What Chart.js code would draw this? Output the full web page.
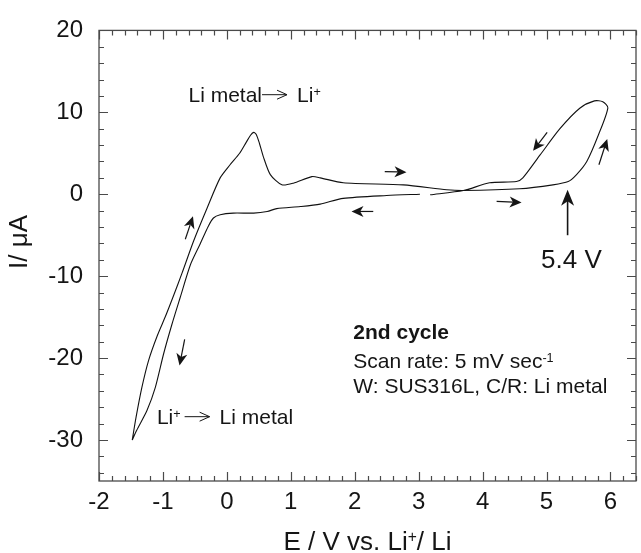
<!DOCTYPE html>
<html>
<head>
<meta charset="utf-8">
<script src="https://cdn.jsdelivr.net/npm/chart.js@4.4.1/dist/chart.umd.min.js"></script>
<style>
  html, body { margin: 0; padding: 0; background: #fff; }
</style>
</head>
<body>
<canvas id="cv" width="641" height="553"></canvas>
<script>
// 2nd cycle CV trace, one closed loop starting from the most negative potential
// (null marks the small break in the return sweep near 3.1 V)
const potential = [
  -1.48, -1.42, -1.33, -1.225, -1.09, -0.96, -0.83, -0.70, -0.52, -0.31,
  -0.105, 0.05, 0.20, 0.30, 0.37, 0.42, 0.46, 0.51, 0.57, 0.68,
  0.86, 1.04, 1.33, 1.46, 1.82, 2.76, 3.44, 3.70, 4.58, 5.10,
  5.34, 5.47, 5.63, 5.81, 5.96, 5.88, 5.75, 5.52, 5.21, 4.90,
  4.63, 4.53, 4.11, 3.70, 3.18, 3.10, 3.02, 2.50, 1.82, 1.46,
  1.15, 0.78, 0.63, 0.42, 0.10, -0.105, -0.21, -0.29, -0.42, -0.57,
  -0.73, -0.86, -0.99, -1.12, -1.25, -1.41, -1.48
];
const current = [
  -30, -27.2, -23.6, -20.3, -17.3, -14.9, -12.3, -9.6, -5.7, -1.7,
  2.0, 3.6, 5.0, 6.3, 7.2, 7.55, 7.3, 6.2, 4.6, 2.4,
  1.15, 1.35, 2.15, 2.0, 1.4, 1.15, 0.55, 0.45, 0.67, 1.15,
  1.55, 2.4, 4.0, 7.2, 10.55, 11.3, 11.4, 10.5, 8.0, 4.8,
  2.0, 1.55, 1.4, 0.45, -0.06, null, 0.0, -0.15, -0.5, -1.2,
  -1.5, -1.75, -2.1, -2.3, -2.3, -2.5, -2.9, -3.9, -6.1, -8.6,
  -12.6, -15.9, -19.5, -23.6, -26.4, -28.8, -30
];

const xTickValues = [-2, -1, 0, 1, 2, 3, 4, 5, 6];
const yTickValues = [-30, -20, -10, 0, 10, 20];

// scan direction arrows: [E tail, I tail, E head, I head]
const scanArrows = [
  [-0.65, -5.5, -0.53, -2.7],
  [-0.66, -17.7, -0.74, -20.9],
  [2.47, 2.77, 2.81, 2.70],
  [2.29, -2.1, 1.95, -2.1],
  [4.22, -0.87, 4.61, -1.0],
  [5.01, 7.55, 4.79, 5.3],
  [5.82, 3.6, 5.95, 6.75]
];
// onset marker
const onsetArrow = [5.33, -5.0, 5.33, 0.55];

const FONT = "'Liberation Sans', Arial, Helvetica, sans-serif";
const INK = '#151515';

function drawRich(ctx, x, y, parts, size, align) {
  const widths = parts.map(p => {
    if (p.arrow) return p.arrow;
    if (p.gap) return p.gap;
    ctx.font = (p.bold ? 'bold ' : '') + (p.sup ? size * 0.6 : size) + 'px ' + FONT;
    return ctx.measureText(p.t).width;
  });
  const total = widths.reduce((a, b) => a + b, 0);
  let cx = align === 'center' ? x - total / 2 : x;
  ctx.textAlign = 'left';
  ctx.textBaseline = 'alphabetic';
  parts.forEach((p, i) => {
    if (p.arrow) {
      const ay = y - size * 0.34;
      ctx.lineWidth = 1;
      ctx.beginPath();
      ctx.moveTo(cx, ay);
      ctx.lineTo(cx + p.arrow, ay);
      ctx.moveTo(cx + p.arrow - 10, ay - 4.5);
      ctx.lineTo(cx + p.arrow, ay);
      ctx.lineTo(cx + p.arrow - 10, ay + 4.5);
      ctx.stroke();
    } else if (!p.gap) {
      ctx.font = (p.bold ? 'bold ' : '') + (p.sup ? size * 0.6 : size) + 'px ' + FONT;
      ctx.fillText(p.t, cx, p.sup ? y - size * 0.3 : y);
    }
    cx += widths[i];
  });
}

function drawScanArrow(ctx, x1, y1, x2, y2, headLen, headW, lw) {
  const ang = Math.atan2(y2 - y1, x2 - x1);
  ctx.lineWidth = lw;
  ctx.beginPath();
  ctx.moveTo(x1, y1);
  ctx.lineTo(x2 - Math.cos(ang) * headLen * 0.7, y2 - Math.sin(ang) * headLen * 0.7);
  ctx.stroke();
  ctx.save();
  ctx.translate(x2, y2);
  ctx.rotate(ang);
  ctx.beginPath();
  ctx.moveTo(0, 0);
  ctx.lineTo(-headLen, -headW);
  ctx.lineTo(-headLen * 0.72, 0);
  ctx.lineTo(-headLen, headW);
  ctx.closePath();
  ctx.fill();
  ctx.restore();
}

const framePlugin = {
  id: 'frame',
  afterDraw(chart) {
    const { ctx, chartArea: a, scales: { x, y } } = chart;
    ctx.save();
    ctx.strokeStyle = '#4a4a4a';
    ctx.lineWidth = 1.3;
    ctx.strokeRect(a.left, a.top, a.right - a.left, a.bottom - a.top);

    // inward ticks on all four sides
    ctx.lineWidth = 1.2;
    ctx.beginPath();
    for (let k = -10; k <= 32; k++) {
      const v = k / 5;
      const px = Math.round(x.getPixelForValue(v)) + 0.5;
      const len = k % 5 === 0 ? 9 : 5;
      ctx.moveTo(px, a.bottom); ctx.lineTo(px, a.bottom - len);
      ctx.moveTo(px, a.top); ctx.lineTo(px, a.top + len);
    }
    for (let v = -34; v <= 20; v += 2) {
      const py = Math.round(y.getPixelForValue(v)) + 0.5;
      const len = v % 10 === 0 ? 9 : 5;
      ctx.moveTo(a.left, py); ctx.lineTo(a.left + len, py);
      ctx.moveTo(a.right, py); ctx.lineTo(a.right - len, py);
    }
    ctx.stroke();

    ctx.fillStyle = INK;
    ctx.strokeStyle = INK;

    scanArrows.forEach(([e1, i1, e2, i2]) => {
      drawScanArrow(ctx, x.getPixelForValue(e1), y.getPixelForValue(i1),
        x.getPixelForValue(e2), y.getPixelForValue(i2), 12, 5.5, 1.2);
    });
    drawScanArrow(ctx, x.getPixelForValue(onsetArrow[0]), y.getPixelForValue(onsetArrow[1]),
      x.getPixelForValue(onsetArrow[2]), y.getPixelForValue(onsetArrow[3]), 16, 6.5, 1.6);

    drawRich(ctx, x.getPixelForValue(5.39), y.getPixelForValue(-9.06), [{ t: '5.4 V' }], 26, 'center');

    drawRich(ctx, x.getPixelForValue(-0.6), y.getPixelForValue(11.28), [
      { t: 'Li metal' }, { arrow: 25 }, { gap: 10 }, { t: 'Li' }, { t: '+', sup: true }
    ], 21, 'left');

    drawRich(ctx, x.getPixelForValue(-1.094), y.getPixelForValue(-28.02), [
      { t: 'Li' }, { t: '+', sup: true }, { gap: 4 }, { arrow: 25 }, { gap: 10 }, { t: 'Li metal' }
    ], 21, 'left');

    const nx = x.getPixelForValue(1.978);
    drawRich(ctx, nx, y.getPixelForValue(-17.69), [{ t: '2nd cycle', bold: true }], 21, 'left');
    drawRich(ctx, nx, y.getPixelForValue(-21.2), [
      { t: 'Scan rate: 5 mV sec' }, { t: '-1', sup: true }
    ], 21, 'left');
    drawRich(ctx, nx, y.getPixelForValue(-24.3), [{ t: 'W: SUS316L, C/R: Li metal' }], 21, 'left');

    // axis titles
    drawRich(ctx, (a.left + a.right) / 2, 550, [
      { t: 'E / V vs. Li' }, { t: '+', sup: true }, { t: '/ Li' }
    ], 26, 'center');

    ctx.translate(18, 242);
    ctx.rotate(-Math.PI / 2);
    drawRich(ctx, 0, 9, [{ t: 'I/ μA' }], 26, 'center');
    ctx.restore();
  }
};

const points = potential.map((e, i) => ({ x: e, y: current[i] }));

new Chart(document.getElementById('cv'), {
  type: 'scatter',
  data: {
    datasets: [{
      data: points,
      showLine: true,
      spanGaps: false,
      borderColor: '#111',
      borderWidth: 1.1,
      pointRadius: 0,
      tension: 0.25
    }]
  },
  options: {
    responsive: false,
    animation: false,
    devicePixelRatio: 1,
    layout: { padding: { top: 28, right: 5, left: 0, bottom: 0 } },
    plugins: { legend: { display: false }, tooltip: { enabled: false } },
    scales: {
      x: {
        type: 'linear',
        min: -2,
        max: 6.4,
        afterBuildTicks: (scale) => { scale.ticks = xTickValues.map(v => ({ value: v })); },
        afterFit: (scale) => { scale.height = 72; },
        grid: { display: false, drawTicks: false },
        border: { display: false },
        ticks: {
          padding: 7,
          color: INK,
          font: { family: FONT, size: 24 },
          callback: (v) => String(v)
        }
      },
      y: {
        type: 'linear',
        min: -35,
        max: 20,
        afterBuildTicks: (scale) => { scale.ticks = yTickValues.map(v => ({ value: v })); },
        afterFit: (scale) => { scale.width = 99; },
        grid: { display: false, drawTicks: false },
        border: { display: false },
        ticks: {
          padding: 16,
          color: INK,
          font: { family: FONT, size: 24 },
          callback: (v) => String(v)
        }
      }
    }
  },
  plugins: [framePlugin]
});
</script>
</body>
</html>
